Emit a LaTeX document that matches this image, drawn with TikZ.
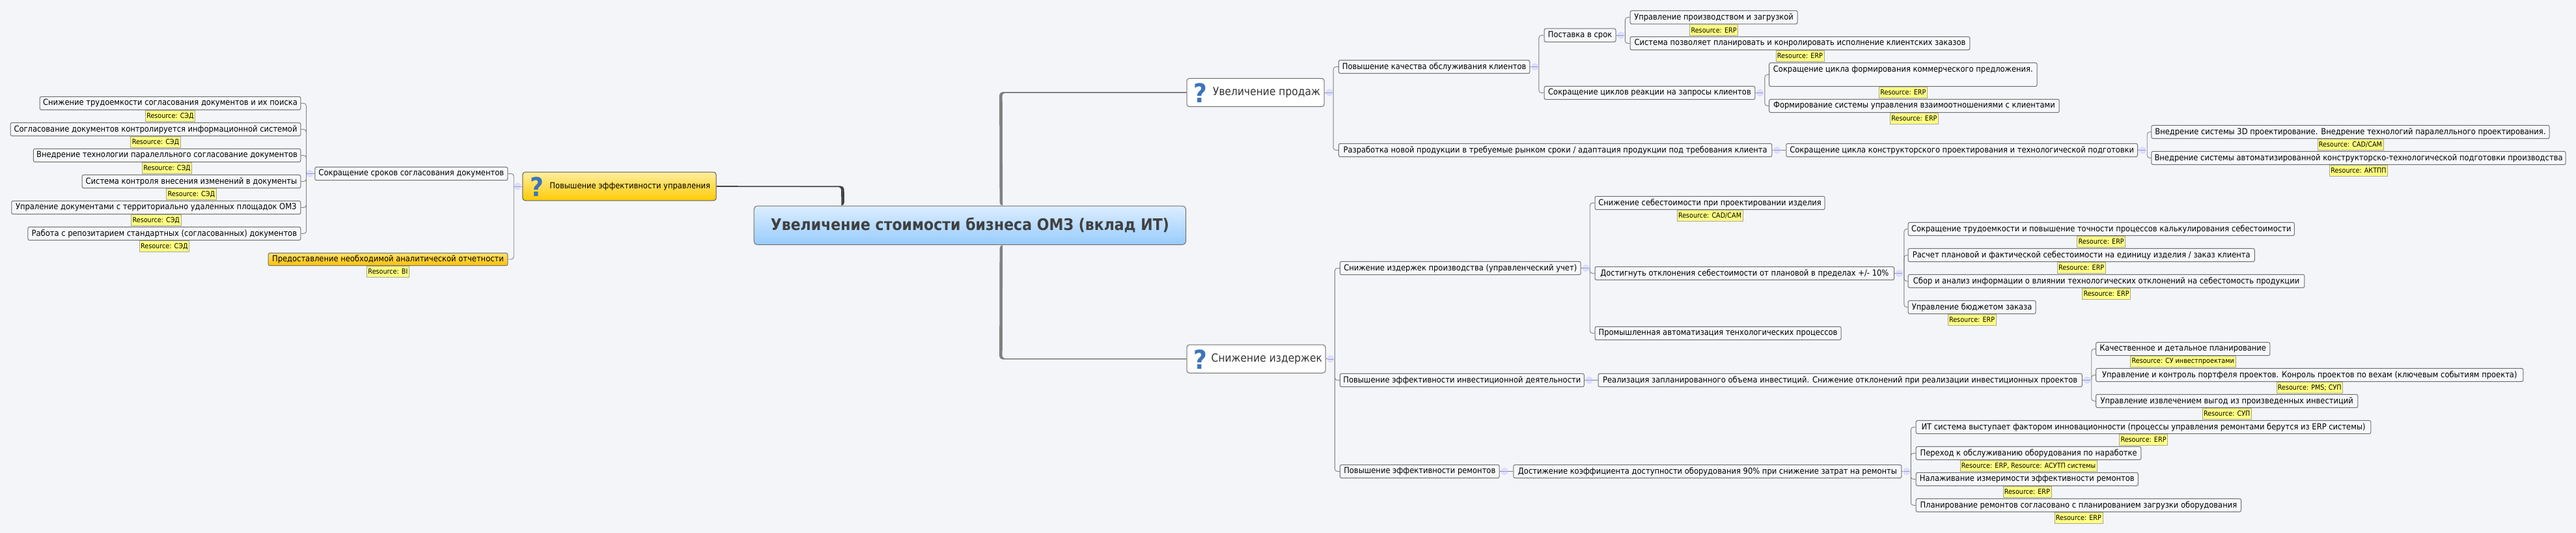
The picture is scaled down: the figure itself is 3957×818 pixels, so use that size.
\documentclass[tikz,border=0pt]{standalone}
\usepackage{fontspec}
\setmainfont[FakeStretch=0.9]{DejaVu Sans}
\usetikzlibrary{positioning}

\definecolor{bgcol}{HTML}{F3F5F9}
\definecolor{boxline}{HTML}{707070}
\definecolor{tagfill}{HTML}{FFFF80}
\definecolor{twig}{HTML}{808080}
\definecolor{trunkgray}{HTML}{808080}
\definecolor{trunkdark}{HTML}{444444}
\definecolor{qblue}{HTML}{3C74BC}

\tikzset{
	leafbox/.style={draw=boxline,fill=bgcol!70!white,rounded corners=2.5pt,line width=1pt,inner sep=0pt,
		minimum height=20.4pt,font=\fontsize{12.8}{15}\selectfont},
	westbox/.style={leafbox,anchor=west},
	eastbox/.style={leafbox,anchor=east},
	tagbox/.style={draw=black!35,fill=tagfill,line width=.6pt,inner xsep=2pt,inner ysep=0pt,
		minimum height=17pt,font=\fontsize{10.7}{12}\selectfont},
	expander/.style={circle,draw=blue!20,fill=blue!12,line width=.5pt,minimum size=10pt,inner sep=0pt,
		path picture={\draw[blue!40!gray!60] (path picture bounding box.west) -- (path picture bounding box.east);}},
	branch/.style={draw=twig,line width=.9pt,rounded corners=4pt},
	topicbox/.style={draw=boxline,fill=white,rounded corners=4pt,line width=1pt,inner sep=0pt,anchor=west,
		minimum height=43.4pt,text=black!80,font=\fontsize{17.2}{20}\selectfont},
	qmark/.style={inner sep=0pt,text=qblue,font=\bfseries\fontsize{40}{40}\selectfont},
}

\begin{document}
\begin{tikzpicture}[x=1pt,y=-1pt]

	\useasboundingbox (0,0) rectangle (3957,818);
	\fill[bgcol] (0,0) rectangle (3957,818);

	% centre
	\node[draw=boxline,rounded corners=5pt,line width=1pt,inner sep=0pt,anchor=west,minimum width=663.3pt,minimum height=59.4pt,
		top color={rgb,255:red,221;green,238;blue,255},bottom color={rgb,255:red,151;green,203;blue,252},text=black!75,font=\bfseries\fontsize{24.5}{28}\selectfont]
		(root) at (1157.7,345.8) {Увеличение стоимости бизнеса ОМЗ (вклад ИТ)};

	% left side
	\node[draw=boxline!80!black,rounded corners=4pt,line width=1pt,inner sep=0pt,anchor=west,minimum width=297.3pt,minimum height=43.7pt,
		top color={rgb,255:red,255;green,238;blue,158},bottom color={rgb,255:red,255;green,203;blue,5},font=\fontsize{12.8}{15}\selectfont]
		(mgmt) at (802.3,286) {\hspace*{32.6pt}Повышение эффективности управления};
	\node[qmark] (mgmtq) at (824.6,286.5) {?};
	\node[expander,left=1.8pt of mgmt] (mgmtx) {};

	\node[eastbox,minimum width=296pt] (docs) at (780.3,266.5) {Сокращение сроков согласования документов};
	\node[eastbox,minimum width=367.7pt,minimum height=19.4pt,top color={rgb,255:red,255;green,226;blue,110},bottom color={rgb,255:red,255;green,192;blue,0}] (report) at (780.3,398) {Предоставление необходимой аналитической отчетности};
	\node[tagbox,below=0pt of report] (reportr) {Resource: BI};
	\node[expander,left=2.3pt of docs] (docsx) {};

	\node[eastbox,minimum width=400.6pt] (d1) at (462.3,158.5) {Снижение трудоемкости согласования документов и их поиска};
	\node[eastbox,minimum width=445.6pt] (d2) at (462.3,198.5) {Согласование документов контролируется информационной системой};
	\node[eastbox,minimum width=410.5pt] (d3) at (462.3,238.5) {Внедрение технологии паралелльного согласование документов};
	\node[eastbox,minimum width=335.7pt] (d4) at (462.3,278.5) {Система контроля внесения изменений в документы};
	\node[eastbox,minimum width=444pt] (d5) at (462.3,318.5) {Упраление документами с территориально удаленных площадок ОМЗ};
	\node[eastbox,minimum width=418.9pt] (d6) at (462.3,358.5) {Работа с репозитарием стандартных (согласованных) документов};
	\foreach \k in {d1,d2,d3,d4,d5,d6}
		\node[tagbox,below=0pt of \k] (\k r) {Resource: СЭД};

	% sales
	\node[topicbox,minimum width=211.1pt] (sales) at (1822.5,142) {\hspace*{34pt}Увеличение продаж};
	\node[qmark] (salesq) at (1844,142.5) {?};
	\node[expander,right=2pt of sales] (salesx) {};

	\node[westbox,minimum width=293.4pt] (quality) at (2055.9,102.5) {Повышение качества обслуживания клиентов};
	\node[westbox,minimum width=665.4pt] (newprod) at (2055.9,230.5) {Разработка новой продукции в требуемые рынком сроки / адаптация продукции под требования клиента};
	\node[expander,right=2pt of quality] (qualityx) {};
	\node[expander,right=2pt of newprod] (newprodx) {};

	\node[westbox,minimum width=109.9pt] (delivery) at (2371.6,54.2) {Поставка в срок};
	\node[westbox,minimum width=323.7pt] (react) at (2371.6,142.5) {Сокращение циклов реакции на запросы клиентов};
	\node[expander,right=2pt of delivery] (deliveryx) {};
	\node[expander,right=2pt of react] (reactx) {};

	\node[westbox,minimum width=257.1pt] (prodload) at (2503.5,26.7) {Управление производством и загрузкой};
	\node[tagbox,below=0pt of prodload] (prodloadr) {Resource: ERP};
	\node[westbox,minimum width=521.9pt] (orders) at (2503.5,66.5) {Система позволяет планировать и конролировать исполнение клиентских заказов};
	\node[tagbox,below=0pt of orders] (ordersr) {Resource: ERP};
	\node[westbox,minimum width=411.3pt,minimum height=36.4pt,text height=14pt,text depth=22.4pt] (offer) at (2717.2,114.5) {Сокращение цикла формирования коммерческого предложения.};
	\node[tagbox,below=0pt of offer] (offerr) {Resource: ERP};
	\node[westbox,minimum width=445.5pt] (crm) at (2717.2,162.5) {Формирование системы управления взаимоотношениями с клиентами};
	\node[tagbox,below=0pt of crm] (crmr) {Resource: ERP};

	\node[westbox,minimum width=539.7pt] (cycle) at (2743.3,230.5) {Сокращение цикла конструкторского проектирования и технологической подготовки};
	\node[expander,right=2pt of cycle] (cyclex) {};
	\node[westbox,minimum width=611.3pt] (cad3d) at (3304.3,202.5) {Внедрение системы 3D проектирование. Внедрение технологий паралелльного проектирования.};
	\node[tagbox,below=0pt of cad3d] (cad3dr) {Resource: CAD/CAM};
	\node[westbox,minimum width=636.4pt] (capp) at (3304.3,242.5) {Внедрение системы автоматизированной конструкторско-технологической подготовки производства};
	\node[tagbox,below=0pt of capp] (cappr) {Resource: АКТПП};

	% costs
	\node[topicbox,minimum width=213pt] (costs) at (1822.5,550.8) {\hspace*{32.6pt}Снижение издержек};
	\node[qmark] (costsq) at (1844,551.3) {?};
	\node[expander,right=2pt of costs] (costsx) {};

	\node[westbox,minimum width=369.9pt] (prodcost) at (2057.8,411.5) {Снижение издержек производства (управленческий учет)};
	\node[westbox,minimum width=375pt] (invest) at (2057.8,583.5) {Повышение эффективности инвестиционной деятельности};
	\node[westbox,minimum width=244.9pt] (repairs) at (2057.8,723.5) {Повышение эффективности ремонтов};
	\node[expander,right=2pt of prodcost] (prodcostx) {};
	\node[expander,right=2pt of invest] (investx) {};
	\node[expander,right=2pt of repairs] (repairsx) {};

	\node[westbox,minimum width=353.1pt] (design) at (2449.5,311.5) {Снижение себестоимости при проектировании изделия};
	\node[tagbox,below=0pt of design] (designr) {Resource: CAD/CAM};
	\node[westbox,minimum width=459.7pt] (deviation) at (2449.5,419.5) {Достигнуть отклонения себестоимости от плановой в пределах +/- 10\%};
	\node[expander,right=2pt of deviation] (deviationx) {};
	\node[westbox,minimum width=378.1pt] (autom) at (2449.5,511.5) {Промышленная автоматизация тенхологических процессов};

	\node[westbox,minimum width=593.2pt] (calc) at (2930.6,351.5) {Сокращение трудоемкости и повышение точности процессов калькулирования себестоимости};
	\node[westbox,minimum width=532.2pt] (unit) at (2930.6,391.5) {Расчет плановой и фактической себестоимости на единицу изделия / заказ клиента};
	\node[westbox,minimum width=608.8pt] (analysis) at (2930.6,431.5) {Сбор и анализ информации о влиянии технологических отклонений на себестомость продукции};
	\node[westbox,minimum width=195.9pt] (budget) at (2930.6,471.5) {Управление бюджетом заказа};
	\foreach \k in {calc,unit,analysis,budget}
		\node[tagbox,below=0pt of \k] (\k r) {Resource: ERP};

	\node[westbox,minimum width=743.3pt] (realize) at (2454.5,583.5) {Реализация запланированного объема инвестиций. Снижение отклонений при реализации инвестиционных проектов};
	\node[expander,right=2pt of realize] (realizex) {};
	\node[westbox,minimum width=267.2pt] (detail) at (3219.1,535.5) {Качественное и детальное планирование};
	\node[tagbox,below=0pt of detail] (detailr) {Resource: СУ инвестпроектами};
	\node[westbox,minimum width=656.3pt] (portfolio) at (3219.1,575.5) {Управление и контроль портфеля проектов. Конроль проектов по вехам (ключевым событиям проекта)};
	\node[tagbox,below=0pt of portfolio] (portfolior) {Resource: PMS; СУП};
	\node[westbox,minimum width=402.2pt] (benefits) at (3219.1,615.5) {Управление извлечением выгод из произведенных инвестиций};
	\node[tagbox,below=0pt of benefits] (benefitsr) {Resource: СУП};

	\node[westbox,minimum width=596pt] (avail) at (2324.4,723.5) {Достижение коэффициента доступности оборудования 90\% при снижение затрат на ремонты};
	\node[expander,right=2pt of avail] (availx) {};
	\node[westbox,minimum width=698.6pt] (innov) at (2942.7,655.5) {ИТ система выступает фактором инновационности (процессы управления ремонтами берутся из ERP системы)};
	\node[tagbox,below=0pt of innov] (innovr) {Resource: ERP};
	\node[westbox,minimum width=345.7pt] (runtime) at (2942.7,695.5) {Переход к обслуживанию оборудования по наработке};
	\node[tagbox,below=0pt of runtime] (runtimer) {Resource: ERP, Resource: АСУТП системы};
	\node[westbox,minimum width=341.2pt] (measure) at (2942.7,735.5) {Налаживание измеримости эффективности ремонтов};
	\node[tagbox,below=0pt of measure] (measurer) {Resource: ERP};
	\node[westbox,minimum width=499.3pt] (schedule) at (2942.7,775.5) {Планирование ремонтов согласовано с планированием загрузки оборудования};
	\node[tagbox,below=0pt of schedule] (scheduler) {Resource: ERP};

	% thick branches from the centre
	\fill[trunkgray,rounded corners=5pt] ([yshift=.8pt]sales.west) -- (1535.1,141.2) -- ([xshift=45.7pt]root.north) [sharp corners] -- ([xshift=50.3pt]root.north) [rounded corners=4pt] -- (1539.7,142.8) [sharp corners] -- ([yshift=-.8pt]sales.west) -- cycle;
	\fill[trunkgray,rounded corners=5pt] ([yshift=-.8pt]costs.west) -- (1535.1,551.6) -- ([xshift=45.7pt]root.south) [sharp corners] -- ([xshift=50.3pt]root.south) [rounded corners=4pt] -- (1539.7,550) [sharp corners] -- ([yshift=.8pt]costs.west) -- cycle;
	\fill[trunkdark,rounded corners=5pt] ([yshift=.8pt]mgmt.east) -- (1296.6,285.5) -- ([xshift=-192.8pt]root.north) [sharp corners] -- ([xshift=-197.4pt]root.north) [rounded corners=4pt] -- (1292,287.1) [sharp corners] -- ([yshift=-.8pt]mgmt.east) -- cycle;

	% thin branches
	\foreach \p in {sales,quality,delivery,react,newprod,cycle,costs,prodcost,deviation,invest,realize,repairs,avail}
		\draw[branch] (\p.east) -- (\p x.west);
	\foreach \p in {mgmt,docs}
		\draw[branch] (\p.west) -- (\p x.east);

	\foreach \k in {quality,newprod}
		\draw[branch] ([xshift=1pt]salesx.east) |- (\k.west);
	\foreach \k in {delivery,react}
		\draw[branch] ([xshift=1pt]qualityx.east) |- (\k.west);
	\foreach \k in {prodload,orders}
		\draw[branch] ([xshift=1.3pt]deliveryx.east) |- (\k.west);
	\foreach \k in {offer,crm}
		\draw[branch] ([xshift=2pt]reactx.east) |- (\k.west);
	\foreach \k in {cad3d,capp}
		\draw[branch] ([xshift=1.7pt]cyclex.east) |- (\k.west);
	\draw[branch] (newprodx.east) -- (cycle.west);

	\foreach \k in {prodcost,invest,repairs}
		\draw[branch] ([xshift=1.4pt]costsx.east) |- (\k.west);
	\foreach \k in {design,deviation,autom}
		\draw[branch] ([xshift=1pt]prodcostx.east) |- (\k.west);
	\foreach \k in {calc,unit,analysis,budget}
		\draw[branch] ([xshift=2.2pt]deviationx.east) |- (\k.west);
	\draw[branch] (investx.east) -- (realize.west);
	\foreach \k in {detail,portfolio,benefits}
		\draw[branch] ([xshift=1.4pt]realizex.east) |- (\k.west);
	\draw[branch] (repairsx.east) -- (avail.west);
	\foreach \k in {innov,runtime,measure,schedule}
		\draw[branch] ([xshift=1.4pt]availx.east) |- (\k.west);

	\foreach \k in {docs,report}
		\draw[branch] ([xshift=-.8pt]mgmtx.west) |- (\k.east);
	\foreach \k in {d1,d2,d3,d4,d5,d6}
		\draw[branch] (docsx.west) |- (\k.east);

\end{tikzpicture}
\end{document}
